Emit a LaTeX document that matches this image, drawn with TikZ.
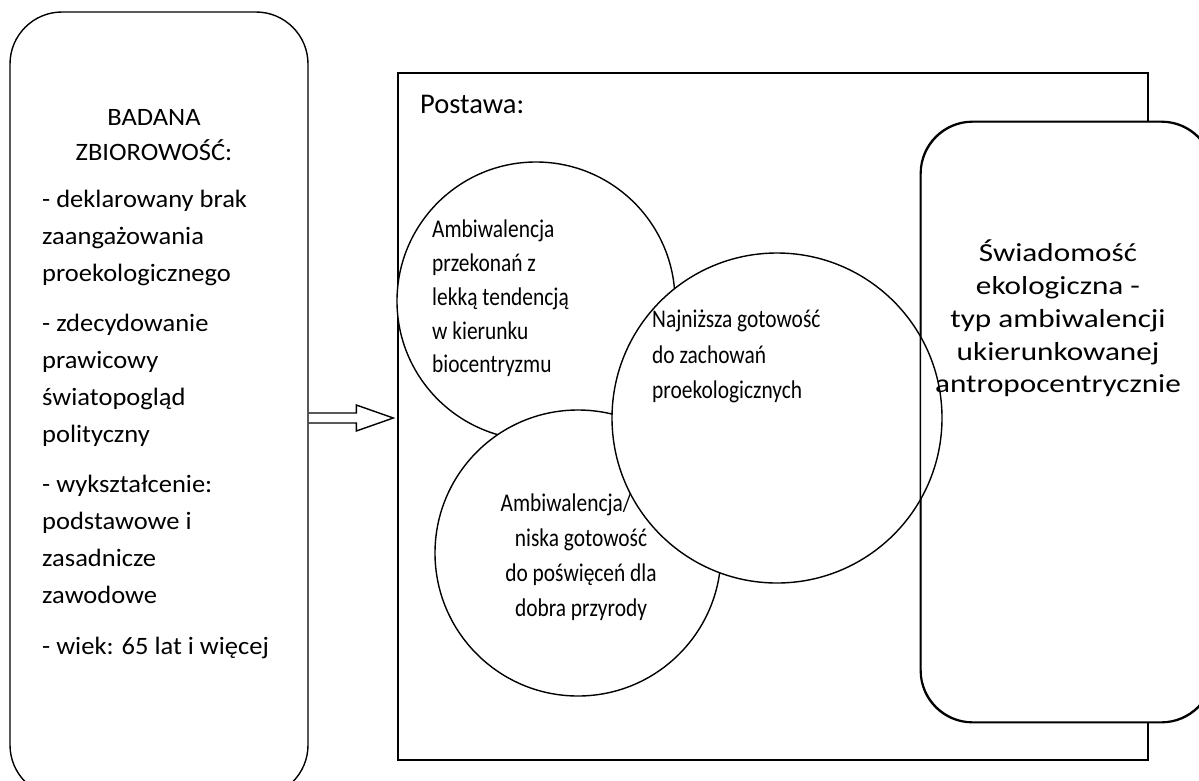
\documentclass[tikz,border=0pt]{standalone}
\usepackage{fontspec}
\setmainfont{Carlito}
\newfontfamily\groupfont[FakeStretch=1.06]{Carlito}
\newfontfamily\awarefont[FakeStretch=1.2]{Carlito}
\newfontfamily\bubblefont[FakeStretch=0.84]{Carlito}
\usetikzlibrary{calc}
\tikzset{
  outline/.style={draw=black, line width=1.4pt},
  rbox/.style={outline, rounded corners=52pt, fill=white},
  bubble/.style={outline, circle, fill=white, inner sep=0pt},
  headtxt/.style={inner sep=0pt, font=\fontsize{28.5}{34}\selectfont},
  btxt/.style={inner sep=0pt, font=\bubblefont\fontsize{25.5}{35}\selectfont},
  ltxt/.style={inner sep=0pt, font=\groupfont\fontsize{25}{37}\selectfont},
  rtxt/.style={inner sep=0pt, font=\awarefont\fontsize{26}{32.75}\selectfont}
}
\begin{document}
\begin{tikzpicture}[x=1pt, y=-1pt]
\useasboundingbox (0,0) rectangle (1199,780);

% surveyed group
\node[rbox, minimum width=298pt, minimum height=785pt] (group) at (159,404.5) {};
\node[ltxt, align=center, anchor=north] (grouphead) at (154,109) {BADANA\\[-2pt]ZBIOROWOŚĆ:};
\node[ltxt, align=left, anchor=north west] (grouplist) at (42,189.5) {%
- deklarowany brak\\zaangażowania\\proekologicznego\\[13pt]%
- zdecydowanie\\prawicowy\\światopogląd\\polityczny\\[13pt]%
- wykształcenie:\\podstawowe i\\zasadnicze\\zawodowe\\[14pt]%
- wiek: 65 lat i więcej};

% attitude frame
\node[outline, minimum width=750pt, minimum height=687pt, inner sep=0pt] (frame) at (773,416.5) {};
\node[headtxt, anchor=north west] (framehead) at (420,95) {Postawa:};

% ecological awareness box
\node[rbox, minimum width=292pt, minimum height=600pt] (aware) at (1067,422) {};

% overlapping components
\node[bubble, minimum size=278pt] (c1) at (536,301) {};
\node[bubble, minimum size=286pt] (c2) at (578,553) {};
\node[bubble, minimum size=330pt] (c3) at (777,418) {};

% redraw the awareness outline over the large bubble
\draw[outline, rounded corners=52pt] (aware.north west) rectangle (aware.south east);

\node[rtxt, align=center, anchor=north] (awaretxt) at (1058,240) {Świadomość\\ekologiczna -\\typ ambiwalencji\\ukierunkowanej\\antropocentrycznie};

\node[btxt, align=left, anchor=north west, font=\bubblefont\fontsize{25.5}{33.75}\selectfont] (c1txt) at (432,220) {Ambiwalencja\\przekonań z\\lekką tendencją\\w kierunku\\biocentryzmu};
\node[btxt, align=left, anchor=north west, font=\bubblefont\fontsize{25.5}{35.5}\selectfont] (c3txt) at (652,310) {Najniższa gotowość\\do zachowań\\proekologicznych};
\node[btxt, align=center, anchor=north] (c2txt) at (581,494) {Ambiwalencja/\hspace*{30pt}\\niska gotowość\\do poświęceń dla\\dobra przyrody};

% hollow arrow from the group to the frame
\coordinate (arrS) at (group.east |- 0,418);
\coordinate (arrT) at ($(frame.west |- arrS)+(-4,0)$);
\draw[outline, line join=miter] ($(arrS)+(0,-5)$) -- ($(arrT)+(-37,-5)$) -- ($(arrT)+(-37,-13)$) -- (arrT)
  -- ($(arrT)+(-37,13)$) -- ($(arrT)+(-37,5)$) -- ($(arrS)+(0,5)$);
\end{tikzpicture}
\end{document}
